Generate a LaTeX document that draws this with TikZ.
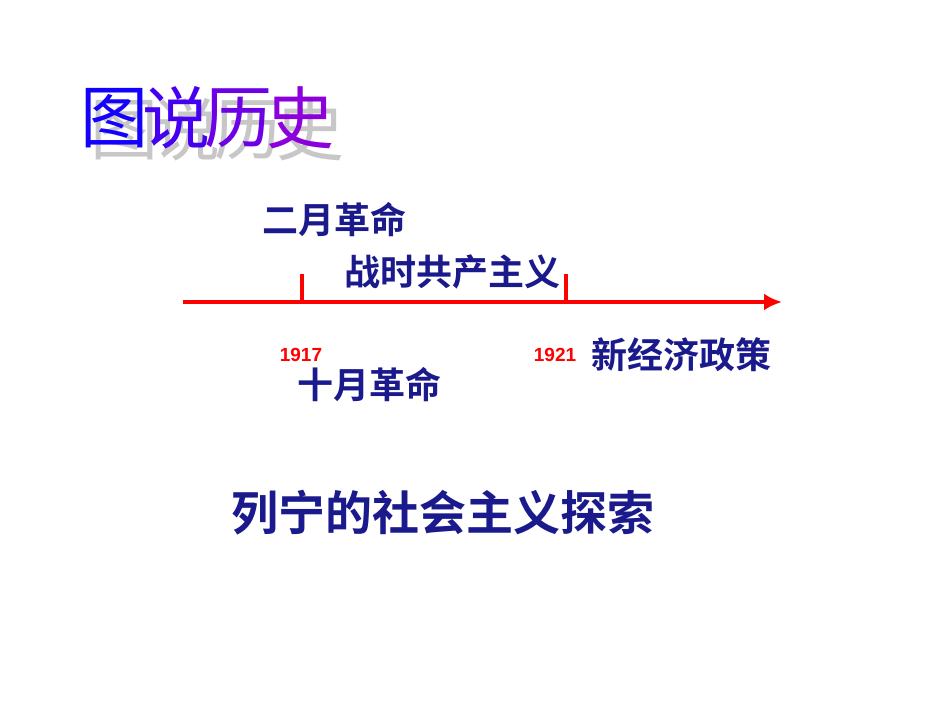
\documentclass[tikz,border=0pt]{standalone}
\usetikzlibrary{arrows.meta}
\usepackage{fontspec}
\newfontfamily\cjk{Noto Sans CJK SC}[BoldFont={Noto Sans CJK SC Bold}]
\setmainfont{Liberation Sans}
\definecolor{navy}{RGB}{26,26,140}
\definecolor{tA}{RGB}{20,0,255}
\definecolor{tB}{RGB}{70,0,240}
\definecolor{tC}{RGB}{110,0,230}
\definecolor{tD}{RGB}{140,0,220}
\begin{document}
\begin{tikzpicture}[x=1pt,y=-1pt,
  lbl/.style={font=\cjk\bfseries\fontsize{36}{36}\selectfont,text=navy,inner sep=0},
  yr/.style={font=\bfseries\fontsize{19}{19}\selectfont,text=red,inner sep=0},
  tt/.style={font=\cjk\fontsize{68}{68}\selectfont,inner sep=0}]
\useasboundingbox[fill=white] (0,0) rectangle (950,713);
\foreach \c/\x in {图/114,说/176,历/238,史/300}{
  \node[tt,text=black!22] at (\x+10,130) {\c};}
\node[tt,text=tA] (t1) at (114,118) {图};
\node[tt,text=tB] (t2) at (176,118) {说};
\node[tt,text=tC] (t3) at (238,118) {历};
\node[tt,text=tD] (t4) at (300,118) {史};
\coordinate (L) at (183,302);
\coordinate (R) at (782,302);
\draw[red,line width=4.5pt,-{Latex[length=18pt,width=17pt]}] (L) -- (R);
\coordinate (k1) at (302,302); \coordinate (k1t) at (302,274);
\coordinate (k2) at (566,302); \coordinate (k2t) at (566,274);
\draw[red,line width=4.5pt] (k1) -- (k1t);
\draw[red,line width=4.5pt] (k2) -- (k2t);
\node[lbl] (a) at (334,220) {二月革命};
\node[lbl] (b) at (452,272) {战时共产主义};
\node[yr] (y1) at (301,355) {1917};
\node[yr] (y2) at (555,355) {1921};
\node[lbl] (c) at (369,385) {十月革命};
\node[lbl] (d) at (681,355) {新经济政策};
\node[lbl,font=\cjk\bfseries\fontsize{47}{47}\selectfont] (e) at (443,513) {列宁的社会主义探索};
\end{tikzpicture}
\end{document}
